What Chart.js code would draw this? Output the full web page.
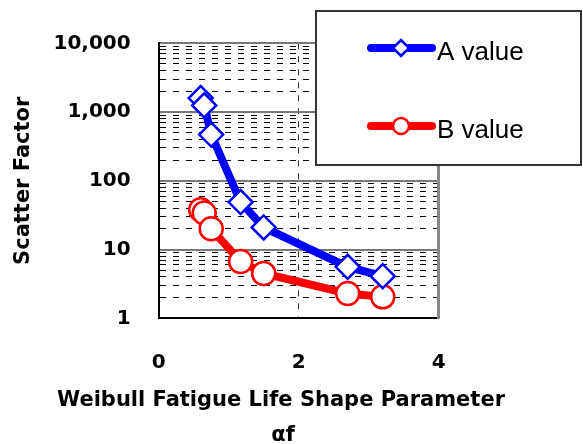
<!DOCTYPE html>
<html>
<head>
<meta charset="utf-8">
<title>Scatter Factor</title>
<script src="https://cdn.jsdelivr.net/npm/chart.js@4/dist/chart.umd.min.js"></script>
<style>
  html, body { margin: 0; padding: 0; background: #fff; }
  canvas { display: block; }
</style>
</head>
<body>
<canvas id="scatterchart" width="583" height="444"></canvas>
<script>
var shapeParam = [0.6, 0.65, 0.75, 1.17, 1.5, 2.7, 3.2]
var aValue = [1600, 1250, 470, 49, 21, 5.6, 4.1]
var bValue = [38, 34, 20, 6.7, 4.5, 2.3, 2.05]
var xTicks = [0, 2, 4]
var yDecades = [1, 10, 100, 1000, 10000]
var seriesNames = ['A value', 'B value']
var xTitle = ['Weibull Fatigue Life Shape Parameter', 'αf']
var yTitle = 'Scatter Factor'

// 1..9 inside every decade -> dashed minor lines
var yMinor = []
for (var d = 0; d < yDecades.length - 1; d++) {
    for (var k = 1; k < 10; k++) yMinor.push(yDecades[d] * k)
}
yMinor.push(yDecades[yDecades.length - 1])

function pairs(ys) {
    return shapeParam.map(function(x, i) { return { x: x, y: ys[i] } })
}

var tickFont = { family: '"DejaVu Sans"', weight: 'bold', size: 20 }

// boxed legend sitting over the top right of the plot
var boxLegend = {
    id: 'boxLegend',
    afterDraw: function(chart) {
        var ctx = chart.ctx
        ctx.save()
        ctx.fillStyle = '#fff'
        ctx.fillRect(316, 11, 265, 154)
        ctx.lineWidth = 2
        ctx.strokeStyle = '#333'
        ctx.strokeRect(316, 11, 265, 154)
        chart.data.datasets.forEach(function(ds, i) {
            var y = 48 + i * 78
            ctx.lineCap = 'round'
            ctx.lineWidth = ds.borderWidth
            ctx.strokeStyle = ds.borderColor
            ctx.beginPath()
            ctx.moveTo(371, y)
            ctx.lineTo(432, y)
            ctx.stroke()
            var cx = 401, r = 8
            ctx.beginPath()
            if (ds.pointStyle === 'rectRot') {
                ctx.moveTo(cx - r, y)
                ctx.lineTo(cx, y - r)
                ctx.lineTo(cx + r, y)
                ctx.lineTo(cx, y + r)
                ctx.closePath()
            } else {
                ctx.arc(cx, y, r, 0, Math.PI * 2)
            }
            ctx.fillStyle = '#fff'
            ctx.fill()
            ctx.lineWidth = 2.5
            ctx.stroke()
            ctx.fillStyle = '#000'
            ctx.font = '26px "Liberation Sans"'
            ctx.textBaseline = 'alphabetic'
            ctx.fillText(ds.label, 437, y + 12)
        })
        ctx.restore()
    }
}

// two line title under the x axis
var bottomTitle = {
    id: 'bottomTitle',
    afterDraw: function(chart) {
        var ctx = chart.ctx
        ctx.save()
        ctx.font = 'bold 21px "DejaVu Sans"'
        ctx.fillStyle = '#000'
        ctx.textAlign = 'center'
        ctx.textBaseline = 'alphabetic'
        ctx.fillText(xTitle[0], 281, 406)
        ctx.fillText(xTitle[1], 283, 441)
        ctx.restore()
    }
}

var ctx = document.getElementById('scatterchart').getContext('2d')
var myChart = new Chart(ctx, {
    type: 'scatter',
    data: {
        datasets: [{
            label: seriesNames[0],
            data: pairs(aValue),
            showLine: true,
            borderColor: '#0000ff',
            borderWidth: 8,
            pointStyle: 'rectRot',
            pointRadius: 12,
            pointBackgroundColor: '#fff',
            pointBorderColor: '#0000ff',
            pointBorderWidth: 2.5
        }, {
            label: seriesNames[1],
            data: pairs(bValue),
            showLine: true,
            borderColor: '#ff0000',
            borderWidth: 8,
            pointStyle: 'circle',
            pointRadius: 11.5,
            pointBackgroundColor: '#fff',
            pointBorderColor: '#ff0000',
            pointBorderWidth: 2.5
        }]
    },
    options: {
        responsive: false,
        animation: false,
        devicePixelRatio: 1,
        layout: { padding: { top: 43.3, right: 144.3, bottom: 0, left: 0 } },
        plugins: {
            legend: { display: false },
            tooltip: { enabled: false }
        },
        scales: {
            x: {
                type: 'linear',
                min: 0,
                max: 4,
                afterBuildTicks: function(scale) {
                    scale.ticks = xTicks.map(function(v) { return { value: v } })
                },
                afterFit: function(scale) { scale.height = 125.7 },
                ticks: { font: tickFont, color: '#000', padding: 32 },
                grid: {
                    drawTicks: false,
                    lineWidth: 1,
                    color: function(c) { return c.tick && c.tick.value === 2 ? '#333' : 'rgba(0,0,0,0)' }
                },
                border: { display: true, color: '#000', width: 2, dash: [6, 7] }
            },
            y: {
                type: 'logarithmic',
                position: 'left',
                min: 1,
                max: 10000,
                afterBuildTicks: function(scale) {
                    scale.ticks = yMinor.map(function(v) { return { value: v } })
                },
                afterFit: function(scale) { scale.width = 158.7 },
                ticks: {
                    font: tickFont,
                    color: '#000',
                    padding: 28,
                    autoSkip: false,
                    callback: function(v) {
                        return yDecades.indexOf(v) >= 0 ? v.toLocaleString('en-US') : ''
                    }
                },
                title: {
                    display: true,
                    text: yTitle,
                    color: '#000',
                    font: { family: '"DejaVu Sans"', weight: 'bold', size: 21 },
                    padding: { top: 11, bottom: 0 }
                },
                grid: {
                    drawTicks: false,
                    lineWidth: 1,
                    color: function(c) {
                        return c.tick && yDecades.indexOf(c.tick.value) >= 0 ? 'rgba(0,0,0,0)' : '#000'
                    }
                },
                border: { display: true, color: '#000', width: 2, dash: [6, 7] }
            },
            decades: {
                type: 'logarithmic',
                position: 'right',
                min: 1,
                max: 10000,
                afterBuildTicks: function(scale) {
                    scale.ticks = yDecades.map(function(v) { return { value: v } })
                },
                afterFit: function(scale) { scale.width = 0 },
                ticks: { display: false },
                grid: {
                    drawTicks: false,
                    lineWidth: 2,
                    color: function(c) {
                        return c.tick && c.tick.value === 1 ? 'rgba(0,0,0,0)' : '#777'
                    }
                },
                border: { display: true, color: '#888', width: 3 }
            }
        }
    },
    plugins: [boxLegend, bottomTitle]
})
</script>
</body>
</html>
